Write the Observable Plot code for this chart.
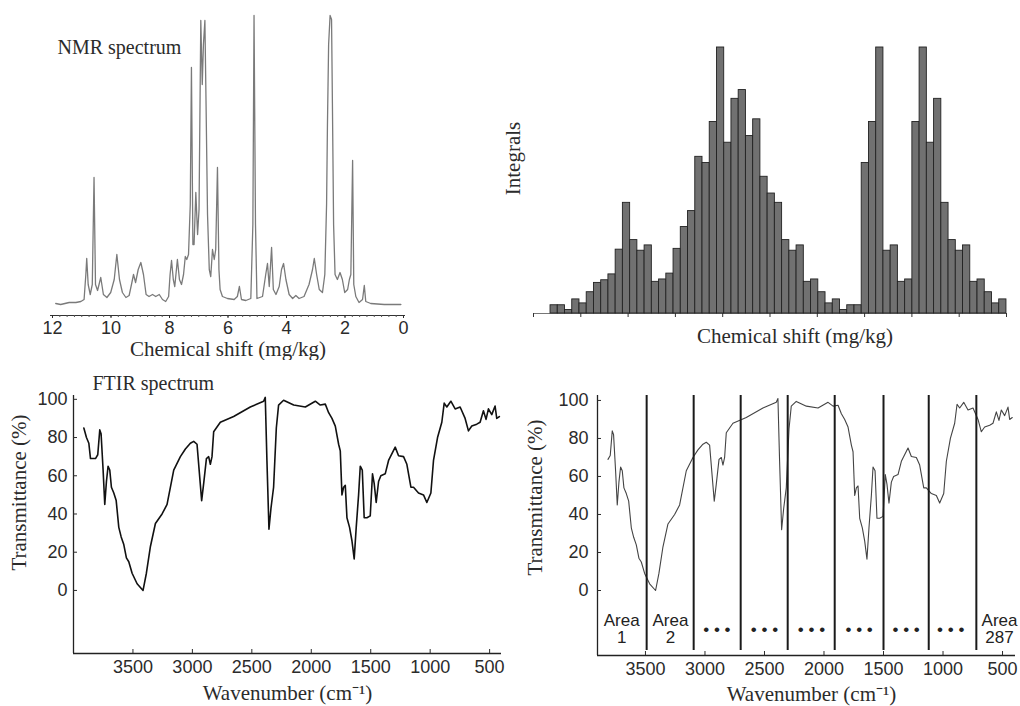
<!DOCTYPE html>
<html><head><meta charset="utf-8">
<script src="https://cdn.jsdelivr.net/npm/d3@7"></script>
<script src="https://cdn.jsdelivr.net/npm/@observablehq/plot@0.6"></script>
<style>
body{margin:0;background:#fff;width:1020px;height:706px;position:relative;overflow:hidden}
.panel{position:absolute}
</style></head><body>
<div id="pa" class="panel" style="left:0;top:0"></div>
<div id="pb" class="panel" style="left:500px;top:0"></div>
<div id="pc" class="panel" style="left:0;top:360px"></div>
<div id="pd" class="panel" style="left:510px;top:360px"></div>
<script>
// ---------- NMR spectrum (chemical shift, relative intensity) ----------
const nmrShift = [11.89,11.72,11.43,11.20,11.03,10.92,10.86,10.83,10.78,10.71,10.64,10.58,10.53,10.46,10.35,10.26,10.14,10.01,9.89,9.80,9.71,9.61,9.49,9.38,9.30,9.23,9.16,9.07,8.98,8.89,8.80,8.70,8.58,8.47,8.35,8.24,8.13,8.03,7.98,7.93,7.87,7.82,7.73,7.66,7.59,7.52,7.46,7.41,7.35,7.29,7.25,7.20,7.16,7.10,7.04,6.99,6.93,6.88,6.84,6.79,6.75,6.70,6.64,6.59,6.53,6.47,6.42,6.36,6.31,6.27,6.19,6.02,5.79,5.68,5.61,5.54,5.39,5.22,5.15,5.11,5.06,5.01,4.82,4.71,4.65,4.59,4.51,4.45,4.36,4.25,4.17,4.10,4.02,3.91,3.79,3.68,3.57,3.40,3.23,3.11,3.05,2.97,2.88,2.77,2.69,2.63,2.60,2.56,2.51,2.46,2.43,2.39,2.34,2.26,2.17,2.09,2.01,1.91,1.85,1.80,1.74,1.70,1.63,1.52,1.40,1.34,1.29,1.12,0.66,0.09];
const nmrIntensity = [1,0,2,2,3,5,30,46,20,10,20,127,20,14,27,10,7,12,25,50,25,12,7,9,20,30,22,35,42,30,10,8,10,8,10,5,3,8,30,44,25,18,45,25,20,30,48,45,50,100,237,60,60,112,70,95,284,220,260,284,200,90,35,28,55,45,55,137,35,15,8,6,5,8,18,5,4,6,80,289,80,6,8,30,41,18,57,15,10,18,35,41,25,10,6,9,6,8,20,35,46,30,15,12,30,100,180,260,289,285,200,80,30,25,32,25,12,15,25,30,144,20,8,2,5,19,3,1,0,0];
const nmrTicks = [12,10,8,6,4,2,0];
const nmrMinorTicks = [12,11.75,11.5,11.25,11,10.75,10.5,10.25,10,9.75,9.5,9.25,9,8.75,8.5,8.25,8,7.75,7.5,7.25,7,6.75,6.5,6.25,6,5.75,5.5,5.25,5,4.75,4.5,4.25,4,3.75,3.5,3.25,3,2.75,2.5,2.25,2,1.75,1.5,1.25,1,0.75,0.5,0.25,0];

// ---------- Integrals histogram ----------
const integralValues = [3.1,3.1,1.3,5.3,3.8,8,11.5,12.5,14.7,24,41.6,27.6,23.6,25.6,11.9,12.8,15,24.3,32.5,38.5,58.9,56.6,72,100,64.2,80.7,84,66.7,73,51.4,45.1,41.6,27.6,23.6,25.6,11.9,12.8,8,3.8,5.3,1.3,3.1,3.1,56.6,72,100,23.6,25.6,11.9,12.8,72,100,64.2,80.7,41.6,27.6,23.6,25.6,11.9,12.8,8,3.8,5.3];
const histTicks = [0,1,2,3,4,5,6,7,8,9,10];
const histStart = 0.36, histBinWidth = 0.153;

// ---------- FTIR spectrum ----------
const ftirWavenumber = [3913,3891,3871,3857,3815,3796,3779,3768,3751,3737,3723,3709,3695,3681,3661,3641,3619,3599,3577,3555,3535,3507,3465,3415,3387,3353,3311,3255,3213,3157,3101,3059,3017,2989,2961,2938,2922,2905,2882,2863,2849,2835,2821,2765,2653,2513,2401,2387,2373,2356,2339,2317,2294,2275,2233,2148,2050,1966,1924,1882,1854,1826,1798,1770,1756,1742,1728,1714,1700,1678,1658,1639,1622,1602,1588,1571,1555,1532,1504,1485,1471,1454,1434,1415,1378,1350,1294,1266,1224,1196,1162,1140,1098,1056,1028,994,972,938,902,882,860,826,790,748,706,678,650,608,580,552,530,510,482,454,440,418];
const ftirTransmittance = [85,80,77,69,69,71,84,82,63,45,57,65,63,54,51,47,33,28,24,17,15,9,3.5,0,9,23,35,40,45,63,70,74,77,78,76.5,59,47,56,69,70,66,70,83,88,91,96,99,101,68,32,43,54,85,97,99.5,97,96,99,97,97.5,93,90,86,76.5,73,50,54,55,38,33,26,16.5,33,50,65,63,38,38,39,61,56,46,57,60,61,68,75,70.5,70,66,54,54,51,50,46,51,68,80,88,98,96,99,95,96,90,83.5,86,87,88,94,89.5,95,92,96.5,90,91];
const ftirYTicks = [0,20,40,60,80,100];
const ftirXTicks = [3500,3000,2500,2000,1500,1000,500];
const areaBoundaries = [3490,3095,2700,2305,1910,1500,1120,720];
const areaLabelPositions = [3700,3290,2900,2500,2105,1705,1310,935,525];
const areaLabels = ["Area\n1","Area\n2","• • •","• • •","• • •","• • •","• • •","• • •","Area\n287"];

// ---------- styling ----------
const serif = "'Liberation Serif','Times New Roman',serif";
const sans = "'Liberation Sans',Arial,sans-serif";
const baseStyle = {fontFamily: sans, fontSize: "18px", color: "#2b2b2b", background: "#fff", overflow: "visible"};
const serifText = {fontFamily: serif, fontSize: 21, fill: "#2b2b2b", text: d => d};
const intFmt = d3.format("d");

// Panel A: NMR
const nmrData = nmrShift.map((s, i) => ({s, v: nmrIntensity[i]}));
document.getElementById("pa").append(Plot.plot({
  width: 420, height: 360, marginLeft: 52, marginRight: 17, marginTop: 14, marginBottom: 45,
  style: baseStyle,
  x: {domain: [12, 0], label: null},
  y: {domain: [-11, 290], label: null, axis: null},
  marks: [
    Plot.ruleY([-11], {stroke: "#333", strokeWidth: 1.2, insetLeft: -2, insetRight: -2}),
    Plot.axisX(nmrMinorTicks, {tickSize: 2, tickFormat: () => "", label: null, stroke: "#555"}),
    Plot.axisX(nmrTicks, {tickSize: 3, tickPadding: 3, tickFormat: intFmt, label: null, fontSize: 18}),
    Plot.line(nmrData, {x: "s", y: "v", stroke: "#7a7a7a", strokeWidth: 1.3, clip: true}),
    Plot.text(["NMR spectrum"], {...serifText, fontSize: 20, frameAnchor: "top-left", textAnchor: "start", lineAnchor: "middle", dx: 5, dy: 33}),
    Plot.text(["Chemical shift (mg/kg)"], {...serifText, frameAnchor: "bottom", textAnchor: "middle", lineAnchor: "middle", dy: 34})
  ]
}));

// Panel B: integrals histogram
const hist = integralValues.map((v, i) => ({x1: histStart + i * histBinWidth, x2: histStart + (i + 1) * histBinWidth, v}));
document.getElementById("pb").append(Plot.plot({
  width: 520, height: 360, marginLeft: 33, marginRight: 14, marginTop: 47, marginBottom: 47,
  style: baseStyle,
  x: {domain: [0, 10], label: null},
  y: {domain: [0, 100], label: null, axis: null},
  marks: [
    Plot.ruleY([0], {stroke: "#777", strokeWidth: 1}),
    Plot.axisX(histTicks, {tickSize: 4, tickFormat: () => "", label: null, stroke: "#333"}),
    Plot.rectY(hist, {x1: "x1", x2: "x2", y: "v", fill: "#717171", stroke: "#222", strokeWidth: 0.9}),
    Plot.text(["Integrals"], {...serifText, frameAnchor: "left", rotate: -90, textAnchor: "middle", lineAnchor: "middle", dx: -20, dy: -22}),
    Plot.text(["Chemical shift (mg/kg)"], {...serifText, frameAnchor: "bottom", textAnchor: "middle", lineAnchor: "middle", dx: 25, dy: 23})
  ]
}));

// Panel C: FTIR spectrum
const ftir = ftirWavenumber.map((w, i) => ({w, t: ftirTransmittance[i]}));
const cX = [4000, 400], cY = [-33, 102];
document.getElementById("pc").append(Plot.plot({
  width: 510, height: 346, marginLeft: 73, marginRight: 9, marginTop: 35, marginBottom: 53,
  style: baseStyle,
  x: {domain: cX, label: null},
  y: {domain: cY, label: null},
  marks: [
    Plot.ruleX([cX[0]], {stroke: "#222", strokeWidth: 1.3}),
    Plot.ruleY([cY[0]], {stroke: "#222", strokeWidth: 1.3}),
    Plot.axisY(ftirYTicks, {tickSize: 0, tickPadding: 6, tickFormat: intFmt, label: null, fontSize: 18}),
    Plot.axisY(ftirYTicks, {tickSize: -4, tickFormat: () => "", label: null}),
    Plot.axisX(ftirXTicks, {tickSize: 0, tickPadding: 7, tickFormat: intFmt, label: null, fontSize: 18}),
    Plot.axisX(ftirXTicks, {tickSize: -4, tickFormat: () => "", label: null}),
    Plot.line(ftir, {x: "w", y: "t", stroke: "#111", strokeWidth: 1.6}),
    Plot.text(["FTIR spectrum"], {...serifText, fontSize: 20, frameAnchor: "top-left", textAnchor: "start", lineAnchor: "middle", dx: 19, dy: -12}),
    Plot.text(["Transmittance (%)"], {...serifText, frameAnchor: "left", rotate: -90, textAnchor: "middle", lineAnchor: "middle", dx: -54, dy: -32}),
    Plot.text(["Wavenumber (cm⁻¹)"], {...serifText, frameAnchor: "bottom", textAnchor: "middle", lineAnchor: "middle", dy: 40})
  ]
}));

// Panel D: FTIR spectrum split into areas
const ftirD = ftir.filter(d => d.w <= 3830);
const dX = [3903, 391], dY = [-34.2, 102.6];
const areas = areaLabels.map((label, i) => ({label, w: areaLabelPositions[i]}));
document.getElementById("pd").append(Plot.plot({
  width: 510, height: 346, marginLeft: 87, marginRight: 5, marginTop: 35, marginBottom: 51,
  style: baseStyle,
  x: {domain: dX, label: null},
  y: {domain: dY, label: null},
  marks: [
    Plot.ruleX([dX[0]], {stroke: "#222", strokeWidth: 1.3}),
    Plot.ruleY([dY[0]], {stroke: "#222", strokeWidth: 1.3}),
    Plot.axisY(ftirYTicks, {tickSize: 0, tickPadding: 9, tickFormat: intFmt, label: null, fontSize: 18}),
    Plot.axisY(ftirYTicks, {tickSize: -4, tickFormat: () => "", label: null}),
    Plot.axisX(ftirXTicks, {tickSize: 0, tickPadding: 7, tickFormat: intFmt, label: null, fontSize: 18}),
    Plot.axisX(ftirXTicks, {tickSize: -4, tickFormat: () => "", label: null}),
    Plot.line(ftirD, {x: "w", y: "t", stroke: "#444", strokeWidth: 1.1}),
    Plot.ruleX(areaBoundaries, {stroke: "#1a1a1a", strokeWidth: 2, insetBottom: 5}),
    Plot.text(areas, {x: "w", y: () => -20.5, text: "label", fontFamily: sans, fontSize: 17, lineHeight: 1, lineAnchor: "middle", fill: "#222"}),
    Plot.text(["Transmittance (%)"], {...serifText, frameAnchor: "left", rotate: -90, textAnchor: "middle", lineAnchor: "middle", dx: -62, dy: -28}),
    Plot.text(["Wavenumber (cm⁻¹)"], {...serifText, frameAnchor: "bottom", textAnchor: "middle", lineAnchor: "middle", dx: 5, dy: 39})
  ]
}));
</script>
</body></html>
